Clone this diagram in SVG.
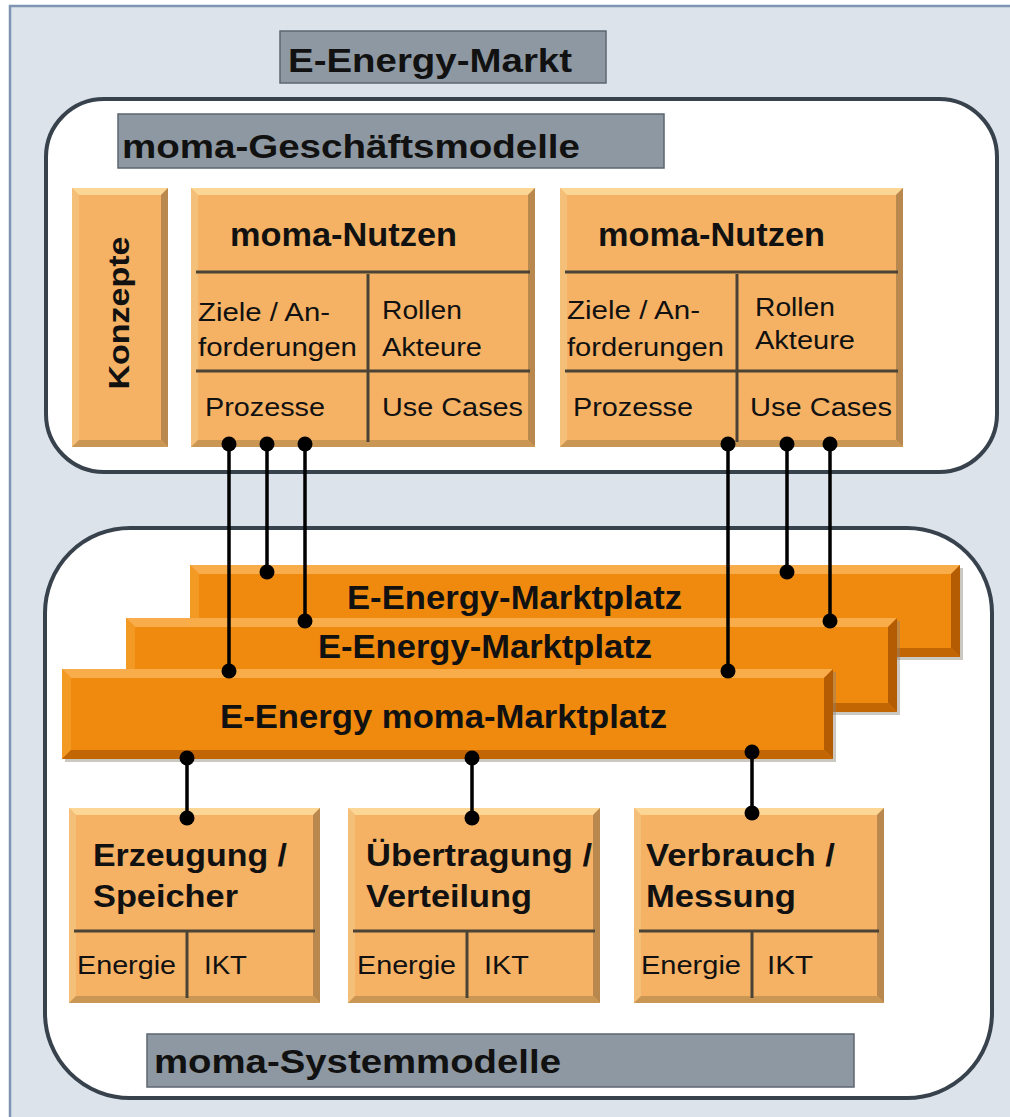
<svg xmlns="http://www.w3.org/2000/svg" width="1010" height="1117" viewBox="0 0 1010 1117">
<defs>
<style>
.t{font-family:"Liberation Sans",Arial,sans-serif;fill:#111;}
.b{font-weight:bold;}
.gbox{fill:#8e98a2;stroke:#5c6670;stroke-width:1.5;}
.cont{fill:#fff;stroke:#37424d;stroke-width:4;}
.lm{fill:#f5b164;}
.lt{fill:#fbd695;}
.ll{fill:#f3bf79;}
.lr{fill:#b9884e;}
.lb{fill:#c99654;}
.om{fill:#ef8a0e;}
.ot{fill:#f8ad4a;}
.ol{fill:#f39a25;}
.or{fill:#b45c04;}
.ob{fill:#c26604;}
.sh{fill:#8c8276;opacity:.45;}
.div{stroke:#4b4436;stroke-width:3;fill:none;}
.con line{stroke:#000;stroke-width:3.5;}
.con circle{fill:#000;}
</style>
</defs>
<rect x="0" y="0" width="1010" height="1117" fill="#fff"/>
<rect x="10" y="6" width="1010" height="1125" fill="#dce3ea" stroke="#7d95b2" stroke-width="2.5"/>

<g id="upper-container">
<rect class="cont" x="46" y="99" width="951" height="373" rx="58"/>
</g>
<g id="lower-container">
<rect class="cont" x="45" y="528" width="947" height="570" rx="85"/>
</g>

<g id="title-markt">
<rect class="gbox" x="280" y="31" width="326" height="52"/>
<text class="t b" x="288" y="72" font-size="33" textLength="284" lengthAdjust="spacingAndGlyphs">E-Energy-Markt</text>
</g>
<g id="title-geschaeftsmodelle">
<rect class="gbox" x="118" y="114" width="546" height="54"/>
<text class="t b" x="122" y="158" font-size="34" textLength="458" lengthAdjust="spacingAndGlyphs">moma-Geschäftsmodelle</text>
</g>

<g id="konzepte">
<rect class="lm" x="72" y="188" width="96" height="259"/>
<polygon class="lt" points="72,188 168,188 161,195 79,195"/>
<polygon class="ll" points="72,188 79,195 79,440 72,447"/>
<polygon class="lr" points="168,188 168,447 161,440 161,195"/>
<polygon class="lb" points="72,447 168,447 161,440 79,440"/>
<text class="t b" transform="translate(129,313) rotate(-90)" x="0" y="0" font-size="30" text-anchor="middle" textLength="153" lengthAdjust="spacingAndGlyphs">Konzepte</text>
</g>

<g id="nutzen-1">
<rect class="lm" x="191" y="188" width="344" height="259"/>
<polygon class="lt" points="191,188 535,188 528,195 198,195"/>
<polygon class="ll" points="191,188 198,195 198,440 191,447"/>
<polygon class="lr" points="535,188 535,447 528,440 528,195"/>
<polygon class="lb" points="191,447 535,447 528,440 198,440"/>
<line class="div" x1="196" y1="272" x2="530" y2="272"/>
<line class="div" x1="196" y1="371" x2="530" y2="371"/>
<line class="div" x1="368" y1="274" x2="368" y2="442"/>
<text class="t b" x="230" y="246" font-size="33" textLength="227" lengthAdjust="spacingAndGlyphs">moma-Nutzen</text>
<text class="t" x="198" y="321" font-size="26" textLength="132" lengthAdjust="spacingAndGlyphs">Ziele / An-</text>
<text class="t" x="198" y="356" font-size="26" textLength="159" lengthAdjust="spacingAndGlyphs">forderungen</text>
<text class="t" x="382" y="319" font-size="26" textLength="80" lengthAdjust="spacingAndGlyphs">Rollen</text>
<text class="t" x="382" y="356" font-size="26" textLength="100" lengthAdjust="spacingAndGlyphs">Akteure</text>
<text class="t" x="205" y="416" font-size="26" textLength="120" lengthAdjust="spacingAndGlyphs">Prozesse</text>
<text class="t" x="382" y="416" font-size="26" textLength="141" lengthAdjust="spacingAndGlyphs">Use Cases</text>
</g>

<g id="nutzen-2">
<rect class="lm" x="560" y="188" width="343" height="259"/>
<polygon class="lt" points="560,188 903,188 896,195 567,195"/>
<polygon class="ll" points="560,188 567,195 567,440 560,447"/>
<polygon class="lr" points="903,188 903,447 896,440 896,195"/>
<polygon class="lb" points="560,447 903,447 896,440 567,440"/>
<line class="div" x1="565" y1="272" x2="898" y2="272"/>
<line class="div" x1="565" y1="371" x2="898" y2="371"/>
<line class="div" x1="737" y1="274" x2="737" y2="442"/>
<text class="t b" x="598" y="246" font-size="33" textLength="227" lengthAdjust="spacingAndGlyphs">moma-Nutzen</text>
<text class="t" x="567" y="319" font-size="26" textLength="133" lengthAdjust="spacingAndGlyphs">Ziele / An-</text>
<text class="t" x="567" y="356" font-size="26" textLength="157" lengthAdjust="spacingAndGlyphs">forderungen</text>
<text class="t" x="755" y="316" font-size="26" textLength="80" lengthAdjust="spacingAndGlyphs">Rollen</text>
<text class="t" x="755" y="349" font-size="26" textLength="100" lengthAdjust="spacingAndGlyphs">Akteure</text>
<text class="t" x="573" y="416" font-size="26" textLength="120" lengthAdjust="spacingAndGlyphs">Prozesse</text>
<text class="t" x="750" y="416" font-size="26" textLength="142" lengthAdjust="spacingAndGlyphs">Use Cases</text>
</g>

<g id="marktplatz-3">
<rect class="sh" x="193" y="568" width="770" height="92"/>
<rect class="om" x="190" y="565" width="770" height="92"/>
<polygon class="ot" points="190,565 960,565 951,574 199,574"/>
<polygon class="ol" points="190,565 199,574 199,648 190,657"/>
<polygon class="or" points="960,565 960,657 951,648 951,574"/>
<polygon class="ob" points="190,657 960,657 951,648 199,648"/>
<text class="t b" x="347" y="609" font-size="33" textLength="335" lengthAdjust="spacingAndGlyphs">E-Energy-Marktplatz</text>
</g>
<g id="marktplatz-2">
<rect class="sh" x="129" y="621" width="771" height="94"/>
<rect class="om" x="126" y="618" width="771" height="94"/>
<polygon class="ot" points="126,618 897,618 888,627 135,627"/>
<polygon class="ol" points="126,618 135,627 135,703 126,712"/>
<polygon class="or" points="897,618 897,712 888,703 888,627"/>
<polygon class="ob" points="126,712 897,712 888,703 135,703"/>
<text class="t b" x="318" y="658" font-size="33" textLength="334" lengthAdjust="spacingAndGlyphs">E-Energy-Marktplatz</text>
</g>
<g id="marktplatz-1">
<rect class="sh" x="65" y="672" width="771" height="90"/>
<rect class="om" x="62" y="669" width="771" height="90"/>
<polygon class="ot" points="62,669 833,669 824,678 71,678"/>
<polygon class="ol" points="62,669 71,678 71,750 62,759"/>
<polygon class="or" points="833,669 833,759 824,750 824,678"/>
<polygon class="ob" points="62,759 833,759 824,750 71,750"/>
<text class="t b" x="220" y="728" font-size="33" textLength="447" lengthAdjust="spacingAndGlyphs">E-Energy moma-Marktplatz</text>
</g>

<g id="erzeugung">
<rect class="lm" x="69" y="808" width="251" height="195"/>
<polygon class="lt" points="69,808 320,808 313,815 76,815"/>
<polygon class="ll" points="69,808 76,815 76,996 69,1003"/>
<polygon class="lr" points="320,808 320,1003 313,996 313,815"/>
<polygon class="lb" points="69,1003 320,1003 313,996 76,996"/>
<line class="div" x1="74" y1="931" x2="315" y2="931"/>
<line class="div" x1="187" y1="931" x2="187" y2="998"/>
<text class="t b" x="93" y="866" font-size="32" textLength="194" lengthAdjust="spacingAndGlyphs">Erzeugung /</text>
<text class="t b" x="93" y="907" font-size="32" textLength="145" lengthAdjust="spacingAndGlyphs">Speicher</text>
<text class="t" x="77" y="974" font-size="26" textLength="99" lengthAdjust="spacingAndGlyphs">Energie</text>
<text class="t" x="204" y="974" font-size="26" textLength="43" lengthAdjust="spacingAndGlyphs">IKT</text>
</g>
<g id="uebertragung">
<rect class="lm" x="348" y="808" width="252" height="195"/>
<polygon class="lt" points="348,808 600,808 593,815 355,815"/>
<polygon class="ll" points="348,808 355,815 355,996 348,1003"/>
<polygon class="lr" points="600,808 600,1003 593,996 593,815"/>
<polygon class="lb" points="348,1003 600,1003 593,996 355,996"/>
<line class="div" x1="353" y1="931" x2="595" y2="931"/>
<line class="div" x1="467" y1="931" x2="467" y2="998"/>
<text class="t b" x="366" y="866" font-size="32" textLength="226" lengthAdjust="spacingAndGlyphs">Übertragung /</text>
<text class="t b" x="366" y="907" font-size="32" textLength="166" lengthAdjust="spacingAndGlyphs">Verteilung</text>
<text class="t" x="357" y="974" font-size="26" textLength="99" lengthAdjust="spacingAndGlyphs">Energie</text>
<text class="t" x="484" y="974" font-size="26" textLength="45" lengthAdjust="spacingAndGlyphs">IKT</text>
</g>
<g id="verbrauch">
<rect class="lm" x="634" y="808" width="250" height="195"/>
<polygon class="lt" points="634,808 884,808 877,815 641,815"/>
<polygon class="ll" points="634,808 641,815 641,996 634,1003"/>
<polygon class="lr" points="884,808 884,1003 877,996 877,815"/>
<polygon class="lb" points="634,1003 884,1003 877,996 641,996"/>
<line class="div" x1="639" y1="931" x2="879" y2="931"/>
<line class="div" x1="752" y1="931" x2="752" y2="998"/>
<text class="t b" x="646" y="866" font-size="32" textLength="189" lengthAdjust="spacingAndGlyphs">Verbrauch /</text>
<text class="t b" x="646" y="907" font-size="32" textLength="150" lengthAdjust="spacingAndGlyphs">Messung</text>
<text class="t" x="641" y="974" font-size="26" textLength="100" lengthAdjust="spacingAndGlyphs">Energie</text>
<text class="t" x="767" y="974" font-size="26" textLength="46" lengthAdjust="spacingAndGlyphs">IKT</text>
</g>

<g id="title-systemmodelle">
<rect class="gbox" x="147" y="1034" width="707" height="53"/>
<text class="t b" x="154" y="1073" font-size="34" textLength="407" lengthAdjust="spacingAndGlyphs">moma-Systemmodelle</text>
</g>

<g id="connectors" class="con">
<line x1="229" y1="444" x2="229" y2="671"/>
<line x1="267" y1="444" x2="267" y2="572"/>
<line x1="305" y1="444" x2="305" y2="621"/>
<line x1="728" y1="444" x2="728" y2="671"/>
<line x1="787" y1="444" x2="787" y2="572"/>
<line x1="830" y1="444" x2="830" y2="621"/>
<line x1="187" y1="758" x2="187" y2="818"/>
<line x1="472" y1="758" x2="472" y2="818"/>
<line x1="752" y1="752" x2="752" y2="813"/>
<circle cx="229" cy="444" r="7.5"/>
<circle cx="267" cy="444" r="7.5"/>
<circle cx="305" cy="444" r="7.5"/>
<circle cx="728" cy="444" r="7.5"/>
<circle cx="787" cy="444" r="7.5"/>
<circle cx="830" cy="444" r="7.5"/>
<circle cx="229" cy="671" r="7.5"/>
<circle cx="267" cy="572" r="7.5"/>
<circle cx="305" cy="621" r="7.5"/>
<circle cx="728" cy="671" r="7.5"/>
<circle cx="787" cy="572" r="7.5"/>
<circle cx="830" cy="621" r="7.5"/>
<circle cx="187" cy="758" r="7.5"/>
<circle cx="472" cy="758" r="7.5"/>
<circle cx="752" cy="752" r="7.5"/>
<circle cx="187" cy="818" r="7.5"/>
<circle cx="472" cy="818" r="7.5"/>
<circle cx="752" cy="813" r="7.5"/>
</g>
</svg>
